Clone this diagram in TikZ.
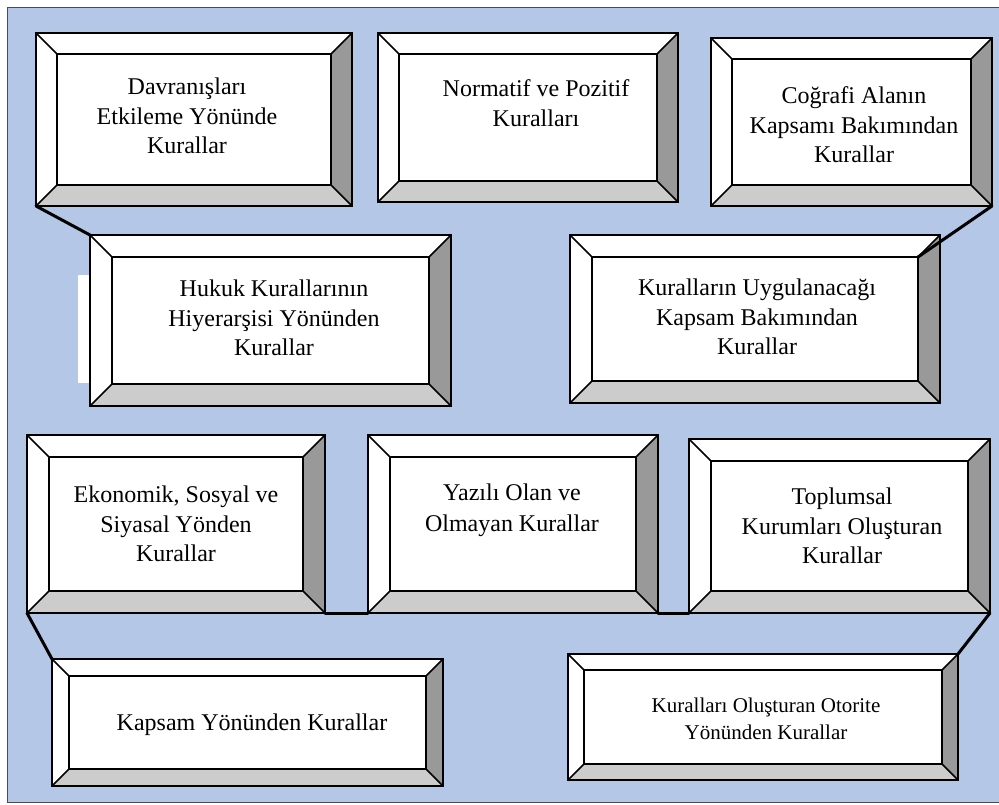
\documentclass[tikz,border=0pt]{standalone}
\usepackage{fontspec}
\setmainfont{Liberation Serif}
\usepackage{xcolor}
\definecolor{panelblue}{HTML}{B4C7E7}
\definecolor{bevellight}{HTML}{CCCCCC}
\definecolor{beveldark}{HTML}{999999}
\usetikzlibrary{calc,positioning}

\tikzset{
  kframe/.style={draw=black, line width=2.7pt, inner sep=0pt, outer sep=0pt},
  kinner/.style={draw=black, line width=2.5pt, fill=white, inner sep=0pt, outer sep=0pt},
  kdiag/.style={draw=black, line width=1.6pt},
  kfont/.style 2 args={font=\rmfamily\fontsize{#1}{#2}\selectfont},
  ktext/.style={align=center, inner sep=0pt},
  klink/.style={draw=black, line width=3pt, line cap=round},
}

\begin{document}
\begin{tikzpicture}[x=1pt, y=-1pt]
			\useasboundingbox (0,0) rectangle (999,804);
			\fill[panelblue] (7,7) rectangle (999,802);
			\draw[black!70, line width=1pt] (999,7) -- (7,7) -- (7,802) -- (999,802);
			\fill[white] (78,275) rectangle (90,383);

			\foreach \nm/\xa/\ya/\xb/\yb/\bv/\dx/\dy/\fs/\bs/\txt in {
				dav/36/33/352/206/21/-7/-3.5/24/29.5/{Davranışları\\Etkileme Yönünde\\Kurallar},
				norm/378/33/678/202/21/8/-14.5/24/29.5/{Normatif ve Pozitif\\Kuralları},
				cog/711/38/992/206/21/2.5/3/24/29.5/{Coğrafi Alanın\\Kapsamı Bakımından\\Kurallar},
				huk/90/235/451/406/22/3.5/-2.5/24/29.5/{Hukuk Kurallarının\\Hiyerarşisi Yönünden\\Kurallar},
				uyg/570/235/940/403/22/2/-2/24/29.5/{Kuralların Uygulanacağı\\Kapsam Bakımından\\Kurallar},
				eko/27/435/325/613/22/0/0/24/29.5/{Ekonomik, Sosyal ve\\Siyasal Yönden\\Kurallar},
				yaz/368/435/658/613/22/-1/-14/24/31/{Yazılı Olan ve\\Olmayan Kurallar},
				top/689/439/990/613/22/2.5/0/24/29.5/{Toplumsal\\Kurumları Oluşturan\\Kurallar},
				kap/52/659/443/786/17/4.5/2/24/29.5/{Kapsam Yönünden Kurallar},
				oto/568/654/958/780/16/3/1.5/21/26.7/{Kuralları Oluşturan Otorite\\Yönünden Kurallar}} {
				\fill[white] (\xa,\ya) rectangle (\xb,\yb);
				\fill[bevellight] (\xa,\yb) -- (\xa+\bv,\yb-\bv) -- (\xb-\bv,\yb-\bv) -- (\xb,\yb) -- cycle;
				\fill[beveldark] (\xb,\ya) -- (\xb-\bv,\ya+\bv) -- (\xb-\bv,\yb-\bv) -- (\xb,\yb) -- cycle;
				\node[kframe, minimum width={(\xb-\xa)*1pt}, minimum height={(\yb-\ya)*1pt}] (\nm) at ({(\xa+\xb)/2},{(\ya+\yb)/2}) {};
				\node[kinner, minimum width={(\xb-\xa-2*\bv)*1pt}, minimum height={(\yb-\ya-2*\bv)*1pt}] (\nm-in) at (\nm.center) {};
				\draw[kdiag] (\nm.north west) -- (\nm-in.north west) (\nm.north east) -- (\nm-in.north east)
					(\nm.south west) -- (\nm-in.south west) (\nm.south east) -- (\nm-in.south east);
				\node[ktext, kfont={\fs}{\bs}] (\nm-t) at ([shift={(\dx,\dy)}]\nm.center) {\txt};
			}

			\draw[klink] (dav.south west) -- (huk.north west);
			\draw[klink] (cog.south east) -- (uyg-in.north east);
			\draw[klink] (eko.south east) -- (yaz.south west);
			\draw[klink] (yaz.south east) -- (top.south west);
			\draw[klink] (eko.south west) -- (kap.north west);
			\draw[klink] (top.south east) -- (oto.north east);
		\end{tikzpicture}
\end{document}
